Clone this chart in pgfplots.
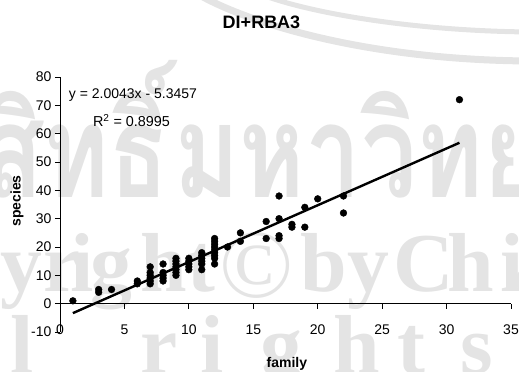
\documentclass[border=0pt]{standalone}
\usepackage{fontspec}
\setmainfont{Liberation Sans}
\newfontfamily\thaifont[Script=Thai]{Loma}
\newfontfamily\wmserif{Liberation Serif}
\usepackage{graphicx}
\usepackage{pgfplots}
\pgfplotsset{compat=1.18}
\definecolor{wm}{RGB}{228,228,228}

% species count against family count per plot
\pgfplotstableread{
x y
1 1
3 4
3 5
4 5
6 7
6 8
7 7
7 8
7 9
7 10
7 11
7 13
8 8
8 9
8 10
8 11
8 14
9 10
9 11
9 12
9 13
9 14
9 15
9 16
10 12
10 13
10 14
10 15
10 16
11 12
11 14
11 15
11 16
11 17
11 18
12 14
12 16
12 17
12 18
12 19
12 20
12 21
12 22
12 23
13 20
14 22
14 25
16 23
16 29
17 23
17 24
17 30
17 38
18 27
18 28
19 27
19 34
20 37
22 32
22 38
31 72
}\pointdata

\begin{document}
\begin{tikzpicture}
\clip (-60bp,-40bp) rectangle (459bp,332bp);
\useasboundingbox (-60bp,-40bp) rectangle (459bp,332bp);

% background watermark, laid out in page units from the top left corner
\begin{scope}[shift={(-60bp,332bp)}, x=1bp, y=-1bp, wm]
  \draw[line width=7bp] (203,-3) .. controls (255,25) and (370,60) .. (530,61);
  \draw[line width=5bp] (268,-3) .. controls (320,15) and (420,31) .. (530,32);
  \node[anchor=base east, inner sep=0pt] at (170,198)
    {\scalebox{1}[1.3]{\fontsize{100}{100}\selectfont\thaifont\bfseries ลิขสิทธิ์}};
  \node[anchor=base west, inner sep=0pt] at (174,198)
    {\scalebox{1}[1.3]{\fontsize{100}{100}\selectfont\thaifont\bfseries มหาวิทยาลัยเชียงใหม่}};
  % spaced-out letters of the copyright lines
  \foreach \c/\px in {C/-160,o/-105,p/-52,y/0,r/43,i/70,g/90,h/140,t/187,b/300,y/347,C/393,h/447,i/500,a/513}
    \node[anchor=base west, inner sep=0pt] at (\px,292)
      {\fontsize{84}{84}\selectfont\wmserif\bfseries \c};
  \node[anchor=base west, inner sep=0pt] at (219,298)
    {\fontsize{98}{98}\selectfont\wmserif ©};
  \foreach \c/\px in {A/-120,l/-50,l/10,r/140,i/200,g/260,h/333,t/397,s/460}
    \node[anchor=base west, inner sep=0pt] at (\px,374)
      {\fontsize{84}{84}\selectfont\wmserif\bfseries \c};
\end{scope}

\begin{axis}[
  at={(0,0)}, anchor=south west,
  scale only axis, width=451bp, height=255bp,
  xmin=0, xmax=35, ymin=-10, ymax=80,
  axis x line=middle, axis y line=left,
  axis line style={-, line width=0.9bp, black},
  hide obscured x ticks=false, hide obscured y ticks=false,
  xtick={0,5,...,35}, ytick={-10,0,...,80},
  tick align=outside, major tick length=5bp,
  tick style={black, line width=0.9bp},
  /pgf/number format/assume math mode=true,
  ticklabel style={font=\fontsize{14bp}{17bp}\selectfont},
  xticklabel style={yshift=-13bp},
  every axis x label/.style={at={(axis description cs:0.503,-0.125)}, anchor=center,
    font=\fontsize{14bp}{17bp}\selectfont\bfseries},
  every axis y label/.style={at={(axis description cs:-0.0953,0.514)}, rotate=90,
    anchor=center, font=\fontsize{14bp}{17bp}\selectfont\bfseries},
  xlabel={family}, ylabel={species},
  clip=false,
]
\addplot[only marks, mark=*, mark size=3.4bp, black] table[x=x, y=y] {\pointdata};
\addplot[black, line width=2.4bp] coordinates {(1,-3.3414) (31,56.7876)};

\node[anchor=center, font=\fontsize{18bp}{20bp}\selectfont\bfseries]
  at (axis description cs:0.4468,1.2137) {DI+RBA3};
% trendline equation box
\node[anchor=base, inner sep=0pt, font=\fontsize{14bp}{17bp}\selectfont]
  at (axis cs:5.665,72.4) {\resizebox{128bp}{!}{y = 2.0043x - 5.3457}};
\node[anchor=base, inner sep=0pt, font=\fontsize{14bp}{17bp}\selectfont]
  at (axis cs:5.55,62.53) {\resizebox{77bp}{!}{R\textsuperscript{2} = 0.8995}};
\end{axis}
\end{tikzpicture}
\end{document}
